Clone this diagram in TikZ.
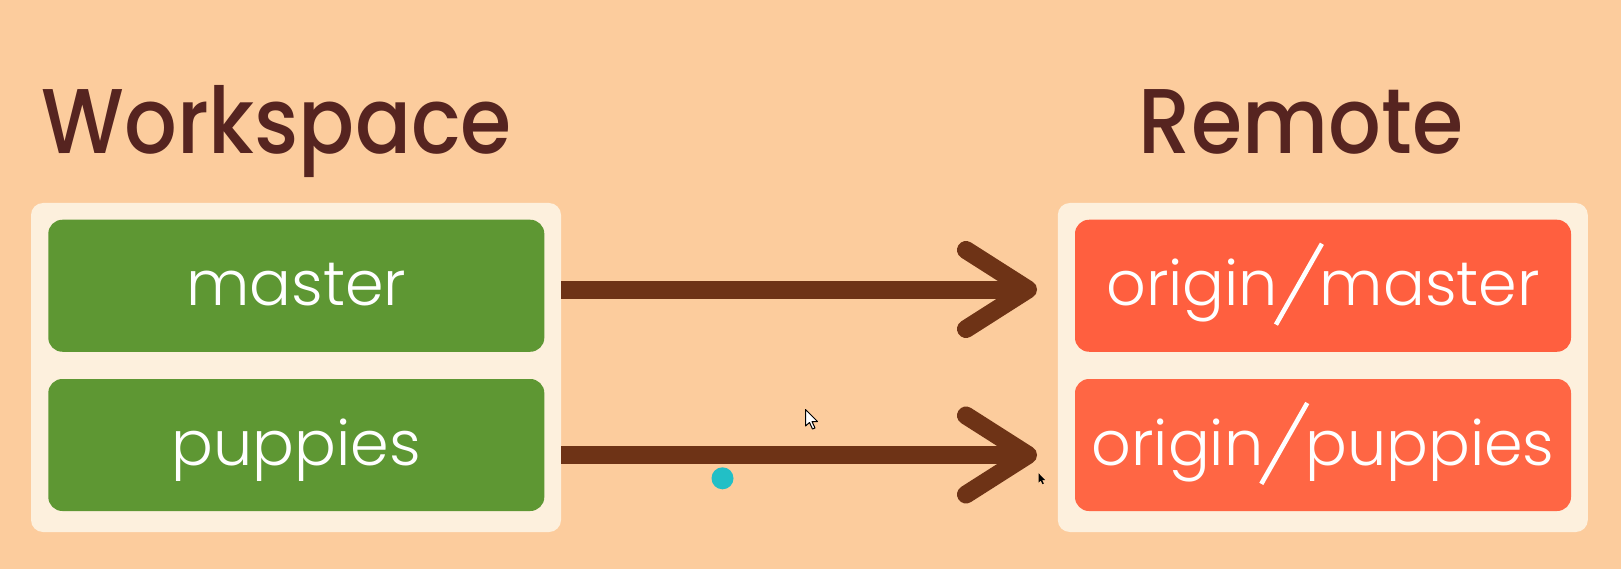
\documentclass[tikz,border=0pt]{standalone}
\usepackage{graphicx}
\usepackage{fontspec}
\newfontfamily\titlefont{Poppins Medium}
\newfontfamily\labelfont{Poppins Light}
\usetikzlibrary{calc}

% long, thin, slanted separator used in remote branch names
\newcommand\branchsep{\kern-4pt\raisebox{-20pt}{\rotatebox{60.4}{\rule{93pt}{4.6pt}}}\kern-4pt}

\definecolor{peach}{HTML}{FCCC9D}
\definecolor{cream}{HTML}{FDF0DD}
\definecolor{branchgreen}{HTML}{5E9733}
\definecolor{remoteA}{HTML}{FF5F3F}
\definecolor{remoteB}{HTML}{FF6644}
\definecolor{titlebrown}{HTML}{562420}
\definecolor{arrowbrown}{HTML}{6E3316}
\definecolor{pointer}{HTML}{22BFC6}

\tikzset{
  heading/.style={text=titlebrown, font=\titlefont\fontsize{92}{92}\selectfont,
    inner sep=0pt, anchor=base, xscale=0.9},
  panel/.style={fill=cream, rounded corners=12pt, inner sep=0pt,
    minimum width=530pt, minimum height=329pt},
  branch/.style={rounded corners=14pt, inner sep=0pt, text=white,
    font=\labelfont\fontsize{62}{62}\selectfont,
    minimum width=496pt, minimum height=132pt,
    text height=44pt, text depth=4pt},
  local/.style={branch, fill=branchgreen},
  pushline/.style={draw=arrowbrown, line width=18pt, line cap=butt},
  chevron/.style={draw=arrowbrown, line width=18pt, line cap=round, line join=round},
}

\begin{document}
\begin{tikzpicture}[x=1pt, y=-1pt]
  % canvas
  \path[fill=peach, use as bounding box] (0,0) rectangle (1621,569);

  % headings
  \node[heading] (wstitle) at (276.7,153.3) {Workspace};
  \node[heading] (rmtitle) at (1301,153.3) {Remote};

  % workspace panel with local branches
  \node[panel] (wsp) at (296,367.5) {};
  \node[local] (master) at (296.3,285.75) {master};
  \node[local] (puppies) at (296.3,445) {puppies};

  % remote panel with tracking branches
  \node[panel] (rmp) at (1322.8,367.5) {};
  \node[branch, fill=remoteA] (omaster) at (1323,285.75) {origin\branchsep master};
  \node[branch, fill=remoteB] (opuppies) at (1323,445) {origin\branchsep puppies};

  % push arrows
  \coordinate (tipA) at (1028,289.5);
  \coordinate (tipB) at (1028,455);
  \draw[pushline] (wsp.east |- tipA) -- (tipA);
  \draw[chevron] ($(tipA)+(-62,-39.5)$) -- (tipA) -- ($(tipA)+(-62,39.5)$);
  \draw[pushline] (wsp.east |- tipB) -- (tipB);
  \draw[chevron] ($(tipB)+(-62,-39.5)$) -- (tipB) -- ($(tipB)+(-62,39.5)$);

  % pointer dot and cursors
  \fill[pointer] (722.5,478.3) circle (11);
  \draw[fill=white, draw=black, line width=1pt, line join=round]
    (805.5,409.5) -- (805.5,426) -- (809.5,422.5) -- (812.5,429) -- (815,428)
    -- (812,421.5) -- (817.5,421.5) -- cycle;
  \fill[black] (1038.6,473.3) -- (1038.6,482.5) -- (1040.8,480.6) -- (1042.5,484.2)
    -- (1043.8,483.6) -- (1042.1,480) -- (1045,480) -- cycle;
\end{tikzpicture}
\end{document}
